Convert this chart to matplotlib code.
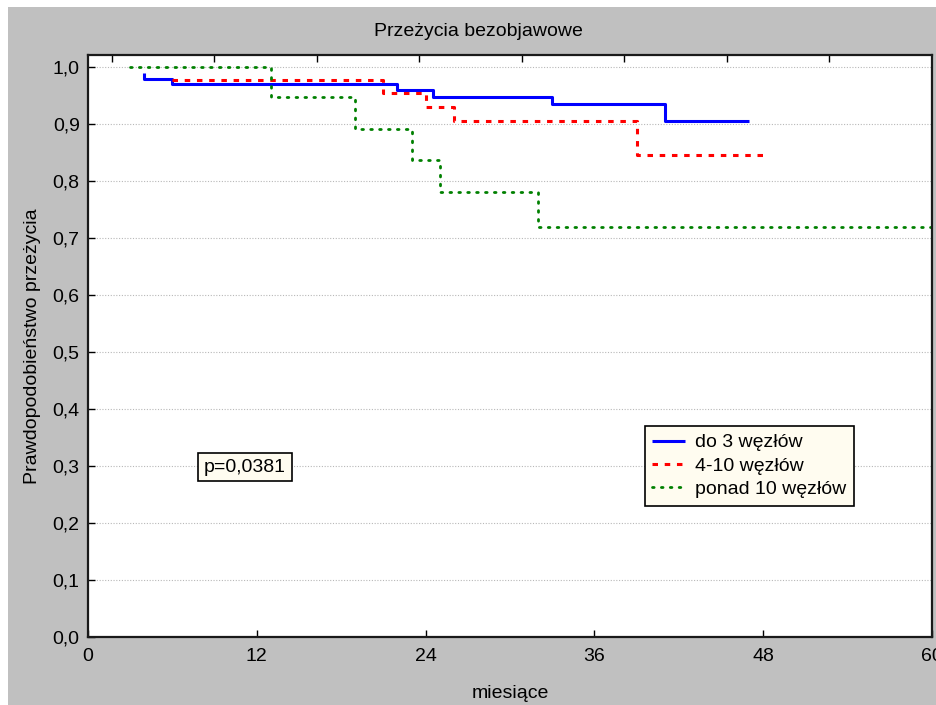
import matplotlib
matplotlib.use("Agg")
import matplotlib.pyplot as plt
from matplotlib.patches import Rectangle

plt.rcParams['font.family'] = ['Liberation Sans', 'DejaVu Sans']

# ---- data ----
title = "Przeżycia bezobjawowe"
xlabel = "miesiące"
ylabel = "Prawdopodobieństwo przeżycia"
p_text = "p=0,0381"

series_names = ["do 3 węzłów", "4-10 węzłów", "ponad 10 węzłów"]

blue_t = [4, 4, 6, 22, 24.5, 33, 41, 47]
blue_s = [0.990, 0.979, 0.970, 0.959, 0.947, 0.935, 0.906, 0.906]

red_t = [6, 21, 24, 26, 39, 48]
red_s = [0.977, 0.955, 0.930, 0.905, 0.846, 0.846]

green_t = [3, 13, 19, 23, 25, 32, 60]
green_s = [1.000, 0.947, 0.892, 0.837, 0.780, 0.720, 0.720]

x_ticks = [0, 12, 24, 36, 48, 60]
x_ticklabels = ["0", "12", "24", "36", "48", "60"]
y_ticks = [0.0, 0.1, 0.2, 0.3, 0.4, 0.5, 0.6, 0.7, 0.8, 0.9, 1.0]
y_ticklabels = ["0,0", "0,1", "0,2", "0,3", "0,4", "0,5", "0,6", "0,7", "0,8", "0,9", "1,0"]

FS = 14

W, H = 936, 705
fig = plt.figure(figsize=(W / 100, H / 100), dpi=100)
fig.patch.set_facecolor("white")
fig.patches.append(Rectangle((8 / W, 0), 1 - 8 / W, 1 - 7 / H, transform=fig.transFigure,
                             facecolor="#c0c0c0", edgecolor="none", zorder=-10))

left, right, top, bottom = 88, 932, 55, 637
ax = fig.add_axes([left / W, 1 - bottom / H, (right - left) / W, (bottom - top) / H])
ax.set_facecolor("white")
ax.set_xlim(0, 60)
ax.set_ylim(0, 1.021)

ax.yaxis.grid(True, linestyle=(0, (1, 1.5)), color="#b8b8b8", linewidth=0.8)
ax.set_axisbelow(True)

ax.plot(blue_t, blue_s, drawstyle="steps-post", color="#0000ff", linewidth=2.2,
        label=series_names[0], solid_capstyle="butt")
ax.plot(red_t, red_s, drawstyle="steps-post", color="#ff0000", linewidth=2.2,
        linestyle=(0, (1.8, 2.2)), label=series_names[1])
ax.plot(green_t, green_s, drawstyle="steps-post", color="#008000", linewidth=2.0,
        linestyle=(0, (0.6, 2.6)), label=series_names[2], dash_capstyle="round")

ax.set_xticks(x_ticks)
ax.set_xticklabels(x_ticklabels)
ax.set_yticks(y_ticks)
ax.set_yticklabels(y_ticklabels)
ax.tick_params(axis="both", direction="in", length=5, width=1, labelsize=FS,
               colors="black", pad=8)
ax.tick_params(axis="y", pad=6)

# top axis ticks (independent spacing as in the reference)
top_ticks = [60 - 7.29 * k for k in range(1, 9)]
sec = ax.secondary_xaxis("top")
sec.set_xticks(top_ticks)
sec.set_xticklabels([])
sec.tick_params(direction="in", length=5, width=1)
sec.spines["top"].set_visible(False)

for side in ["left", "bottom", "top", "right"]:
    ax.spines[side].set_color("#1a1a1a")
    ax.spines[side].set_linewidth(1.6)

ax.set_xlabel(xlabel, fontsize=FS, labelpad=14)
ax.set_ylabel(ylabel, fontsize=FS, labelpad=8)
fig.text(478 / W, 1 - 31 / H, title, ha="center", va="center", fontsize=FS)

ax.text(11.16, 0.298, p_text, fontsize=FS, ha="center", va="center",
        bbox=dict(boxstyle="square,pad=0.3", facecolor="#fffcf0", edgecolor="black", linewidth=1.2))

leg = ax.legend(loc="upper left", bbox_to_anchor=(0.66, 0.362), fontsize=FS,
                frameon=True, fancybox=False, framealpha=1, handlelength=1.7,
                borderpad=0.38, labelspacing=0.3, handletextpad=0.5, borderaxespad=0)
leg.get_frame().set_facecolor("#fffcf0")
leg.get_frame().set_edgecolor("black")
leg.get_frame().set_linewidth(1.2)

fig.savefig("out.png", dpi=100)
